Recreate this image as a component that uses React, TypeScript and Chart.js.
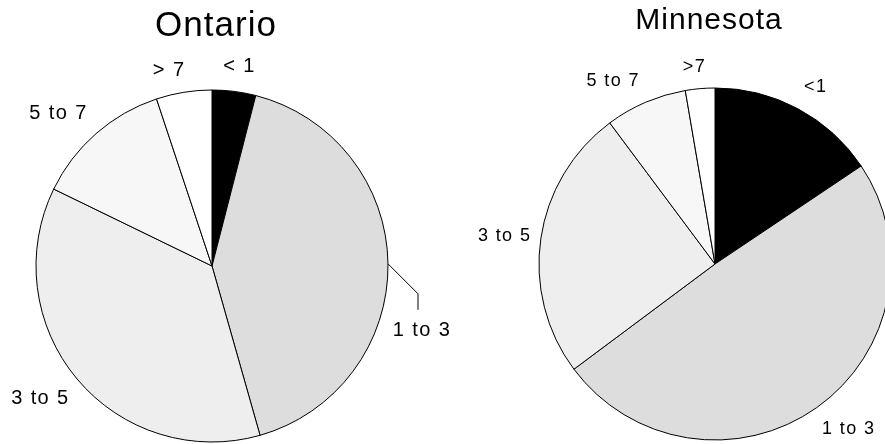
import React, { useEffect, useRef } from "react";
import { Chart, registerables } from "chart.js";

Chart.register(...registerables);

const ontarioLabels = ["< 1", "1 to 3", "3 to 5", "5 to 7", "> 7"];
const ontarioValues = [4.0, 41.6, 36.6, 12.7, 5.1];
const minnesotaLabels = ["<1", "1 to 3", "3 to 5", "5 to 7", ">7"];
const minnesotaValues = [15.6, 49.2, 25.0, 7.5, 2.7];
const sliceColors = ["#000000", "#dddddd", "#eeeeee", "#f7f7f7", "#ffffff"];

const FONT = '"Liberation Sans", Arial, Helvetica, sans-serif';

const pieDecor = {
  id: "pieDecor",
  afterDraw(chart: any, _args: any, opts: any) {
    const ctx = chart.ctx as CanvasRenderingContext2D;
    const meta = chart.getDatasetMeta(0);
    const labels = chart.data.labels as string[];
    ctx.save();
    const first = meta.data[0].getProps(["x", "y"], true);
    ctx.fillStyle = "#000";
    ctx.font = `${opts.titleSize}px ${FONT}`;
    (ctx as any).letterSpacing = opts.titleSpacing;
    ctx.textAlign = "center";
    ctx.textBaseline = "alphabetic";
    ctx.fillText(opts.title, first.x + opts.titleDx, opts.titleBaseline);

    ctx.font = `${opts.labelSize}px ${FONT}`;
    (ctx as any).letterSpacing = opts.labelSpacing;
    const capH = opts.labelSize * 0.716;
    meta.data.forEach((arc: any, i: number) => {
      const { x, y, startAngle, endAngle, outerRadius } = arc.getProps(
        ["x", "y", "startAngle", "endAngle", "outerRadius"],
        true
      );
      const mid = (startAngle + endAngle) / 2;
      const ux = Math.cos(mid);
      const uy = Math.sin(mid);
      const text = String(labels[i]);
      const w = ctx.measureText(text).width;
      const nudge = (opts.nudge && opts.nudge[i]) || [0, 0];
      if (i === opts.leaderIndex) {
        const ex = x + outerRadius * ux;
        const ey = y + outerRadius * uy;
        const kx = ex + opts.leader[0];
        const ky = ey + opts.leader[1];
        const lx = kx;
        const ly = ky + opts.leader[2];
        ctx.strokeStyle = "#000";
        ctx.lineWidth = 1;
        ctx.beginPath();
        ctx.moveTo(ex, ey);
        ctx.lineTo(kx, ky);
        ctx.lineTo(lx, ly);
        ctx.stroke();
        ctx.fillText(text, lx + 4 + nudge[0], ly + 12 + capH + nudge[1]);
      } else {
        const d = outerRadius + opts.labelGap;
        const cxT = x + d * ux + (w / 2) * ux + nudge[0];
        const cyT = y + d * uy + (capH / 2) * uy + nudge[1];
        ctx.fillText(text, cxT, cyT + capH / 2);
      }
    });
    ctx.restore();
  },
};

function PieChart(props: {
  labels: string[];
  values: number[];
  width: number;
  height: number;
  left: number;
  padding: any;
  decor: any;
}) {
  const ref = useRef<HTMLCanvasElement | null>(null);
  useEffect(() => {
    if (!ref.current) return;
    const chart = new Chart(ref.current, {
      type: "pie",
      data: {
        labels: props.labels,
        datasets: [
          {
            data: props.values,
            backgroundColor: sliceColors,
            borderColor: "#000000",
            borderWidth: 1,
          },
        ],
      },
      options: {
        responsive: false,
        animation: false,
        events: [],
        radius: 176,
        layout: { padding: props.padding },
        plugins: {
          legend: { display: false },
          tooltip: { enabled: false },
          pieDecor: props.decor,
        } as any,
      } as any,
      plugins: [pieDecor as any],
    });
    return () => chart.destroy();
  }, []);
  return (
    <canvas
      ref={ref}
      width={props.width}
      height={props.height}
      style={{ position: "absolute", left: props.left, top: 0, width: props.width, height: props.height }}
    />
  );
}

export default function App() {
  return (
    <div
      style={{
        position: "absolute",
        left: 0,
        top: 0,
        width: 885,
        height: 444,
        overflow: "hidden",
        background: "#ffffff",
      }}
    >
      <PieChart
        labels={ontarioLabels}
        values={ontarioValues}
        width={470}
        height={444}
        left={0}
        padding={{ top: 88, right: 46, left: 0, bottom: 0 }}
        decor={{
          title: "Ontario",
          titleSize: 35,
          titleSpacing: "1px",
          titleDx: 4,
          titleBaseline: 36,
          labelSize: 20,
          labelSpacing: "1.4px",
          labelGap: 20,
          leaderIndex: 1,
          leader: [30, 30, 16],
          nudge: [[1, 0], [0, 0], [1, 0], [-5, -1], [-9, 3]],
        }}
      />
      <PieChart
        labels={minnesotaLabels}
        values={minnesotaValues}
        width={510}
        height={444}
        left={460}
        padding={{ top: 84, right: 0, left: 0, bottom: 0 }}
        decor={{
          title: "Minnesota",
          titleSize: 30,
          titleSpacing: "1px",
          titleDx: -6,
          titleBaseline: 29,
          labelSize: 18,
          labelSpacing: "1.4px",
          labelGap: 20,
          leaderIndex: -1,
          leader: [0, 0, 0],
          nudge: [[3, 0], [5, -2], [10, 0], [-14, 2], [-3, 3]],
        }}
      />
    </div>
  );
}
